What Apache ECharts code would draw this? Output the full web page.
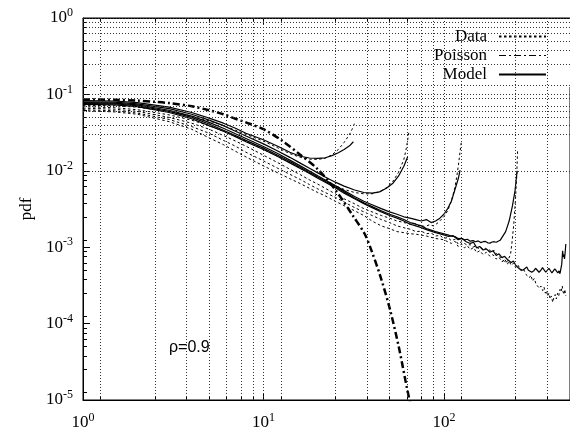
<!DOCTYPE html>
<html><head><meta charset="utf-8">
<script src="https://cdn.jsdelivr.net/npm/echarts@6/dist/echarts.min.js"></script>
<style>html,body{margin:0;padding:0;background:#fff}#c{width:570px;height:432px}</style>
</head><body><div id="c"></div>
<script>
// ---- axis structure ----
const xDecades = [1, 10, 100];
const yDecades = [1e-5, 1e-4, 1e-3, 1e-2, 1e-1];
const gridFractions = [0.125, 0.25, 0.375, 0.5, 0.625, 0.75, 0.875, 1];
const legendNames = ['Data', 'Poisson', 'Model'];
const annotation = 'ρ=0.9';

// ---- Poisson reference ----
const poisson = [[1,0.086],[1.5,0.085],[2,0.083],[2.5,0.080],[3,0.077],[4,0.070],[5,0.062],[6,0.055],[7,0.048],[8,0.043],[10,0.035],[12.6,0.0251],[15.8,0.0166],[20,0.0105],[25.1,0.0056],[31.6,0.0025],[36.3,0.00151],[39.8,0.00089],[44.7,0.0004],[50.1,0.000158],[56.2,0.00005],[63.1,0.0000126],[65,0.0000095]];

// ---- Data curves (dotted) ----
const dataN32 = [[1,0.072],[1.5,0.071],[2,0.068],[3,0.060],[4,0.052],[5,0.045],[6,0.039],[7,0.034],[8,0.030],[10,0.0245],[12,0.020],[14,0.0168],[16,0.0150],[18,0.0142],[20,0.0141],[22,0.0146],[24,0.0162],[26,0.019],[28,0.0235],[30,0.030],[31,0.035],[32,0.042]];
const dataN64 = [[1,0.069],[1.5,0.067],[2,0.063],[3,0.054],[4,0.046],[5,0.039],[6,0.033],[7,0.028],[8,0.0245],[10,0.019],[12,0.0155],[14,0.0128],[16,0.0108],[18,0.0094],[20,0.0083],[22,0.0074],[25,0.0064],[28,0.0057],[32,0.0052],[36,0.0050],[40,0.0050],[44,0.0053],[48,0.0060],[52,0.0072],[56,0.0095],[60,0.014],[62,0.020],[64,0.032]];
const dataN128 = [[1,0.066],[1.5,0.064],[2,0.060],[3,0.050],[4,0.042],[5,0.035],[6,0.029],[7,0.0245],[8,0.021],[10,0.0160],[12,0.0128],[14,0.0105],[16,0.0089],[18,0.0076],[20,0.0067],[22,0.0059],[25,0.0050],[28,0.0043],[32,0.0037],[36,0.0032],[40,0.0029],[45,0.0026],[50,0.0024],[55,0.0022],[58,0.00215],[60,0.0021],[63,0.00205],[65,0.0020],[68,0.00206],[70,0.0020],[73,0.0019],[75,0.00196],[78,0.00185],[80,0.0019],[83,0.00196],[85,0.0020],[88,0.0019],[90,0.0020],[93,0.0021],[95,0.0022],[100,0.0025],[105,0.0030],[110,0.0040],[115,0.0060],[118,0.0085],[121,0.013],[123,0.018],[125,0.024]];
const dataN256 = [[1,0.063],[1.5,0.061],[2,0.057],[3,0.047],[4,0.038],[5,0.031],[6,0.025],[7,0.021],[8,0.0175],[10,0.0135],[12,0.0108],[14,0.0090],[16,0.0077],[18,0.0066],[20,0.0058],[22,0.0052],[25,0.0045],[28,0.0039],[32,0.0033],[36,0.0029],[40,0.0026],[45,0.0023],[50,0.0021],[55,0.0019],[60,0.0018],[65,0.00172],[70,0.0016],[75,0.00162],[80,0.0015],[85,0.00153],[90,0.0014],[95,0.00143],[100,0.0013],[105,0.00134],[110,0.00122],[115,0.00127],[120,0.0011],[125,0.00118],[130,0.00112],[135,0.00106],[140,0.00108],[145,0.0010],[150,0.00104],[155,0.00096],[160,0.0010],[165,0.00093],[170,0.00097],[175,0.0009],[180,0.00092],[185,0.00087],[190,0.00091],[195,0.00083],[200,0.0008],[205,0.00075],[210,0.0007],[215,0.00066],[220,0.00062],[225,0.00066],[230,0.0007],[234,0.0008],[238,0.0011],[244,0.002],[249,0.004],[253,0.008],[256,0.018]];
const dataN512 = [[1,0.061],[1.5,0.059],[2,0.055],[3,0.044],[4,0.035],[5,0.027],[6,0.022],[7,0.018],[8,0.0152],[10,0.0116],[12,0.0094],[14,0.0079],[16,0.0068],[18,0.0059],[20,0.0052],[22,0.0047],[25,0.0040],[28,0.0035],[32,0.0030],[36,0.0026],[40,0.0022],[45,0.0019],[50,0.00175],[55,0.0016],[60,0.00155],[65,0.0015],[70,0.00148],[80,0.0014],[90,0.0013],[100,0.00125],[105,0.00118],[110,0.00112],[115,0.0012],[120,0.00102],[125,0.0011],[130,0.00098],[135,0.00104],[140,0.00093],[146,0.00099],[152,0.00085],[158,0.0009],[165,0.0008],[172,0.00086],[180,0.00076],[187,0.0008],[195,0.0007],[202,0.00074],[210,0.00064],[217,0.0007],[225,0.0006],[230,0.00066],[236,0.00058],[243,0.00062],[250,0.00054],[258,0.00058],[268,0.00049],[276,0.00052],[285,0.00044],[292,0.00046],[298,0.0004],[304,0.00043],[310,0.00036],[317,0.00039],[324,0.00033],[331,0.00035],[338,0.00029],[345,0.00031],[353,0.00027],[359,0.0003],[365,0.00025],[370,0.00027],[376,0.00023],[382,0.00025],[388,0.00021],[394,0.00023],[401,0.00019],[407,0.00022],[414,0.00024],[420,0.00021],[427,0.00025],[433,0.00023],[440,0.00028],[446,0.00026],[453,0.00031],[458,0.00026],[463,0.00024],[468,0.00028],[474,0.00023]];

// ---- Model curves (solid) ----
const modelN32 = [[1,0.083],[1.5,0.082],[2,0.078],[3,0.068],[4,0.058],[5,0.049],[6,0.042],[7,0.036],[8,0.031],[10,0.0255],[12,0.021],[14,0.0175],[16,0.0155],[18,0.0147],[20,0.0145],[22,0.0148],[24,0.0158],[26,0.0172],[28,0.019],[30,0.0212],[31.5,0.024]];
const modelN64 = [[1,0.080],[1.5,0.079],[2,0.075],[3,0.065],[4,0.055],[5,0.046],[6,0.039],[7,0.033],[8,0.0285],[10,0.0225],[12,0.0182],[14,0.015],[16,0.0126],[18,0.0108],[20,0.0094],[22,0.0083],[25,0.0071],[28,0.0063],[32,0.0056],[36,0.0052],[40,0.0051],[44,0.0053],[48,0.0059],[52,0.0068],[56,0.0085],[60,0.0115],[63,0.0153]];
const modelN128 = [[1,0.078],[1.5,0.077],[2,0.073],[3,0.062],[4,0.052],[5,0.043],[6,0.036],[7,0.0305],[8,0.0265],[10,0.0208],[12,0.0168],[14,0.0138],[16,0.0116],[18,0.0099],[20,0.0086],[22,0.0076],[25,0.0064],[28,0.0055],[32,0.0046],[36,0.0040],[40,0.0036],[45,0.0032],[50,0.0029],[55,0.0027],[60,0.0025],[65,0.0024],[70,0.0023],[75,0.0022],[80,0.0023],[85,0.0021],[90,0.0022],[95,0.0024],[100,0.0027],[105,0.0032],[110,0.0040],[115,0.0056],[120,0.0078],[123,0.0102]];
const modelN256 = [[1,0.076],[1.5,0.075],[2,0.071],[3,0.060],[4,0.050],[5,0.041],[6,0.034],[7,0.029],[8,0.025],[10,0.0198],[12,0.016],[14,0.0132],[16,0.0111],[18,0.0095],[20,0.0083],[22,0.0073],[25,0.0062],[28,0.0053],[32,0.0044],[36,0.0038],[40,0.0034],[45,0.0030],[50,0.0027],[55,0.0025],[60,0.0023],[65,0.0021],[70,0.0020],[75,0.0019],[80,0.00175],[90,0.0016],[100,0.0015],[105,0.00145],[110,0.0014],[115,0.00138],[120,0.0013],[125,0.00131],[130,0.00125],[135,0.00127],[140,0.0012],[145,0.00122],[150,0.00118],[155,0.00121],[160,0.00115],[165,0.00118],[170,0.00119],[175,0.00114],[180,0.00113],[185,0.00117],[190,0.00118],[195,0.00116],[200,0.0012],[205,0.00123],[210,0.0013],[220,0.0016],[230,0.0022],[240,0.0035],[248,0.0055],[252,0.008],[255,0.010]];
const modelN512 = [[1,0.074],[1.5,0.073],[2,0.069],[3,0.058],[4,0.048],[5,0.039],[6,0.033],[7,0.028],[8,0.024],[10,0.019],[12,0.0154],[14,0.0127],[16,0.0107],[18,0.0092],[20,0.008],[22,0.0071],[25,0.006],[28,0.0051],[32,0.0043],[36,0.0037],[40,0.0033],[45,0.0029],[50,0.0026],[55,0.0024],[60,0.0022],[65,0.002],[70,0.0019],[75,0.0018],[80,0.0017],[90,0.00155],[100,0.00145],[106,0.00138],[112,0.00142],[120,0.00125],[126,0.0013],[133,0.00118],[140,0.00112],[146,0.00116],[152,0.00098],[158,0.00102],[165,0.00092],[172,0.00095],[180,0.00086],[187,0.0009],[195,0.00078],[202,0.00082],[210,0.00073],[217,0.00076],[225,0.00069],[230,0.00072],[236,0.00063],[243,0.00066],[250,0.00058],[256,0.00061],[262,0.00052],[268,0.00055],[274,0.0005],[281,0.00053],[288,0.00055],[294,0.0005],[300,0.00052],[307,0.00047],[315,0.00049],[322,0.00053],[330,0.00051],[337,0.00047],[345,0.0005],[352,0.00054],[360,0.00052],[367,0.00047],[375,0.00049],[382,0.00053],[390,0.0005],[397,0.00046],[405,0.00048],[412,0.00052],[420,0.0005],[428,0.00046],[435,0.00049],[440,0.00045],[445,0.00047],[450,0.0006],[455,0.0009],[459,0.00075],[462,0.0008],[466,0.0007],[470,0.00085],[474,0.0011]];

const dataCurves = [dataN32, dataN64, dataN128, dataN256, dataN512];
const modelCurves = [modelN32, modelN64, modelN128, modelN256, modelN512];

// gridline values (gnuplot-style minor ticks: fractions of the upper decade)
const gridX = [], gridY = [];
xDecades.forEach(d => gridFractions.forEach(f => { const v = +(d * 10 * f).toPrecision(6); if (v <= 500) gridX.push(v); }));
yDecades.forEach(d => gridFractions.forEach(f => gridY.push(+(d * 10 * f).toPrecision(6))));

const SERIF = '"Liberation Serif", "DejaVu Serif", serif';
function powLabel(v) {
  const e = Math.log10(v);
  const r = Math.round(e);
  if (Math.abs(e - r) > 1e-6) return '';
  return '{b|10}{s|' + r + '}';
}
const labelRich = {
  b: { fontFamily: SERIF, fontSize: 17, color: '#000' },
  s: { fontFamily: SERIF, fontSize: 12, color: '#000', padding: [0, 0, 10, 0] }
};

const chart = echarts.init(document.getElementById('c'), null, { renderer: 'canvas' });
const series = [];
series.push({
  name: 'grid', type: 'line', data: [], z: 1, silent: true,
  markLine: {
    silent: true, symbol: ['none', 'none'], animation: false,
    label: { show: false },
    lineStyle: { color: '#333', type: [1, 2], width: 1 },
    emphasis: { disabled: true },
    data: gridX.map(v => ({ xAxis: v })).concat(gridY.map(v => ({ yAxis: v })))
  }
});
dataCurves.forEach(c => series.push({
  name: 'Data', type: 'line', data: c, symbol: 'none', z: 3, silent: true,
  itemStyle: { color: '#000' },
  lineStyle: { color: '#000', width: 1, type: [2.5, 2.5] }
}));
series.push({
  name: 'Poisson', type: 'line', data: poisson, symbol: 'none', z: 4, silent: true, smooth: 0.3,
  itemStyle: { color: '#000' },
  lineStyle: { color: '#000', width: 2.5, type: [7, 3, 2, 3] }
});
modelCurves.forEach(c => series.push({
  name: 'Model', type: 'line', data: c, symbol: 'none', z: 3, silent: true,
  itemStyle: { color: '#000' },
  lineStyle: { color: '#000', width: 1.2, type: 'solid' }
}));

const commonX = { type: 'log', logBase: 10, min: 1, max: 500, gridIndex: 0 };
const commonY = { type: 'log', logBase: 10, min: 1e-5, max: 1, gridIndex: 0 };

chart.setOption({
  animation: false,
  backgroundColor: '#fff',
  grid: { left: 83, top: 18, right: -4, bottom: 32, show: true, borderColor: '#000', borderWidth: 1, containLabel: false },
  legend: {
    data: [{ name: 'Data' }, { name: 'Poisson', lineStyle: { width: 1.2 } }, { name: 'Model' }],
    orient: 'vertical', right: 0, top: 19, align: 'right',
    itemWidth: 47, itemHeight: 12, itemGap: 2,
    padding: [9, 23, 4, 26], backgroundColor: '#fff', selectedMode: false,
    itemStyle: { opacity: 0 },
    textStyle: { fontFamily: SERIF, fontSize: 17, lineHeight: 16, color: '#000', padding: [0, 7, 0, 0] }
  },
  xAxis: [
    Object.assign({}, commonX, {
      position: 'bottom',
      axisLine: { show: true, lineStyle: { color: '#000' } },
      axisTick: { show: true, inside: true, length: 7, lineStyle: { color: '#000' } },
      axisLabel: { formatter: powLabel, rich: labelRich, margin: 12, showMaxLabel: false },
      splitLine: { show: false }
    }),
    Object.assign({}, commonX, {
      position: 'top',
      axisLine: { show: true, lineStyle: { color: '#000' } },
      axisTick: { show: true, inside: true, length: 7, lineStyle: { color: '#000' } },
      axisLabel: { show: false }, splitLine: { show: false }
    }),
    Object.assign({}, commonX, {
      position: 'bottom',
      axisLine: { show: false },
      axisTick: { show: true, inside: true, length: 4, customValues: gridX, lineStyle: { color: '#000' } },
      axisLabel: { show: false }, splitLine: { show: false }
    }),
    Object.assign({}, commonX, {
      position: 'top',
      axisLine: { show: false },
      axisTick: { show: true, inside: true, length: 4, customValues: gridX, lineStyle: { color: '#000' } },
      axisLabel: { show: false }, splitLine: { show: false }
    })
  ],
  yAxis: [
    Object.assign({}, commonY, {
      position: 'left',
      name: 'pdf', nameLocation: 'middle', nameGap: 48, nameRotate: 90,
      nameTextStyle: { fontFamily: SERIF, fontSize: 17, color: '#000' },
      axisLine: { show: true, lineStyle: { color: '#000' } },
      axisTick: { show: true, inside: true, length: 7, lineStyle: { color: '#000' } },
      axisLabel: { formatter: powLabel, rich: labelRich, margin: 10 },
      splitLine: { show: false }
    }),
    Object.assign({}, commonY, {
      position: 'left',
      axisLine: { show: false },
      axisTick: { show: true, inside: true, length: 4, customValues: gridY, lineStyle: { color: '#000' } },
      axisLabel: { show: false }, splitLine: { show: false }
    })
  ],
  graphic: [{
    type: 'text', left: 169, top: 340, silent: true,
    style: { text: annotation, font: '16px "Liberation Sans", Arial, sans-serif', fill: '#000' }
  }],
  series: series
});
</script>
</body></html>
